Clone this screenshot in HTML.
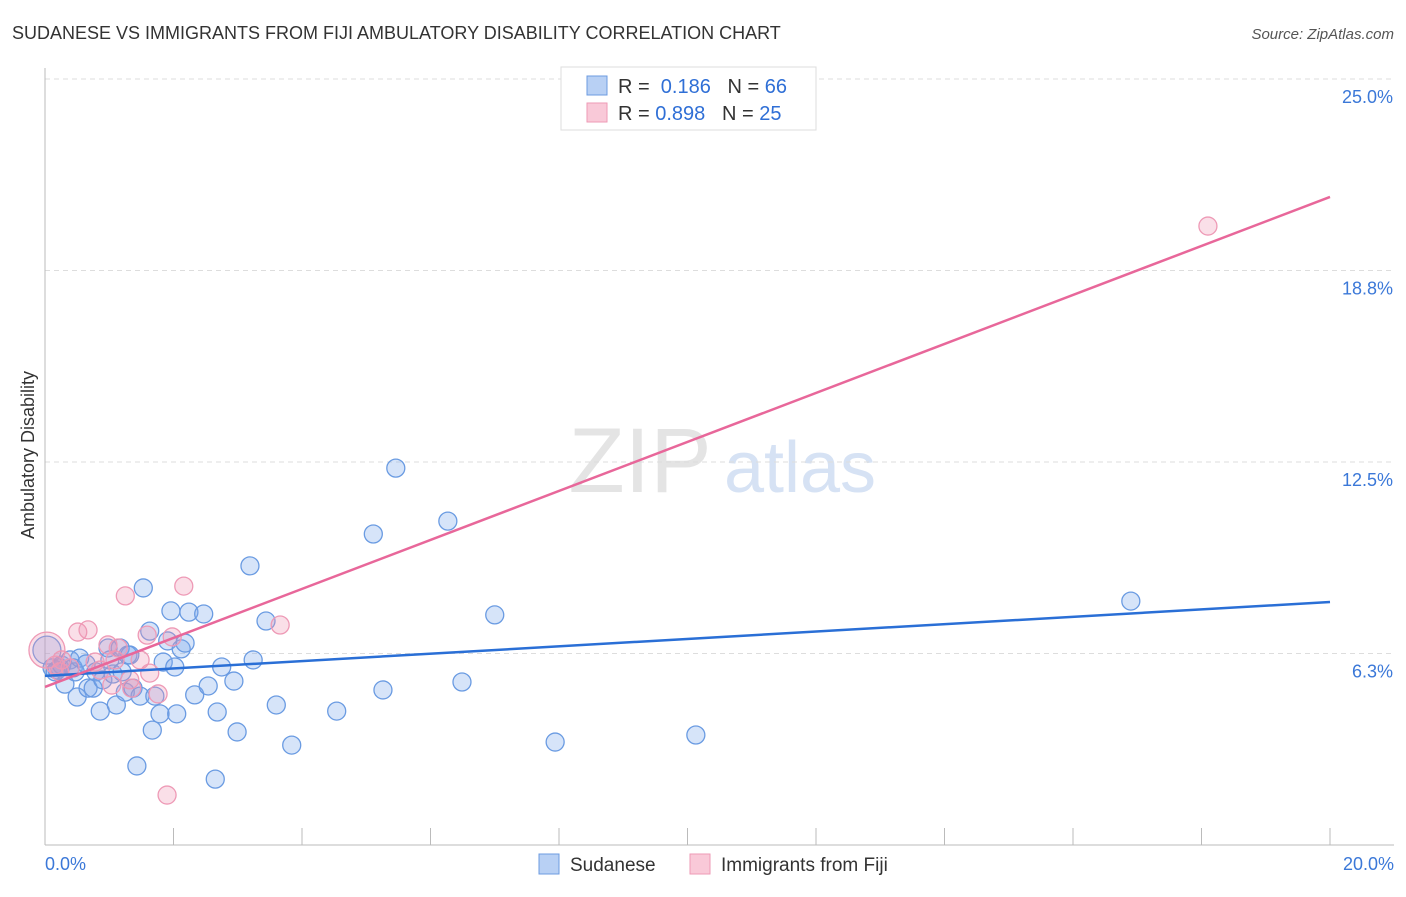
<!DOCTYPE html>
<html><head><meta charset="utf-8"><style>
body{margin:0;background:#fff;font-family:"Liberation Sans",sans-serif}
svg text{font-family:"Liberation Sans",sans-serif}
</style></head><body>
<svg id="c" width="1406" height="892">
<text x="12" y="39" font-size="18" fill="#333">SUDANESE VS IMMIGRANTS FROM FIJI AMBULATORY DISABILITY CORRELATION CHART</text>
<text x="1394" y="39" font-size="15" fill="#555" text-anchor="end" font-style="italic">Source: ZipAtlas.com</text>
<text x="640" y="492" font-size="92" fill="#e4e4e4" font-family="Liberation Serif" text-anchor="middle">ZIP</text>
<text x="800" y="492" font-size="72" fill="#d6e2f4" text-anchor="middle">atlas</text>
<g id="grid"></g><g id="axes"></g><g id="pts"></g><g id="lines"></g>
<text transform="translate(34,455) rotate(-90)" font-size="18" fill="#333" text-anchor="middle">Ambulatory Disability</text>
<g>
<rect x="561" y="67" width="255" height="63" fill="#fff" stroke="#ddd"/>
<rect x="587" y="76" width="20" height="19" fill="#b8d0f4" stroke="#6c9be0"/>
<rect x="587" y="103" width="20" height="19" fill="#f9c9d8" stroke="#ee9ab6"/>
<text x="618" y="93" font-size="20" fill="#333">R = <tspan fill="#2f6fd6">&#160;0.186</tspan>&#160;&#160;&#160;N = <tspan fill="#2f6fd6">66</tspan></text>
<text x="618" y="120" font-size="20" fill="#333">R = <tspan fill="#2f6fd6">0.898</tspan>&#160;&#160;&#160;N = <tspan fill="#2f6fd6">25</tspan></text>
</g>
<g>
<rect x="539" y="854" width="20" height="20" fill="#b8d0f4" stroke="#6c9be0"/>
<text x="570" y="871" font-size="19" fill="#333">Sudanese</text>
<rect x="690" y="854" width="20" height="20" fill="#f9c9d8" stroke="#ee9ab6"/>
<text x="721" y="871" font-size="19" fill="#333">Immigrants from Fiji</text>
</g>
</svg>
<script>
const xTicks=[0,2,4,6,8,10,12,14,16,18,20];
const yTicks=[6.3,12.5,18.8,25.0];
const yGrid=[6.25,12.5,18.75,25];
const blueX=[0.03,0.11,0.16,0.19,0.23,0.26,0.31,0.39,0.44,0.47,0.50,0.54,0.64,0.67,0.75,0.79,0.86,0.90,0.98,1.01,1.06,1.11,1.17,1.20,1.25,1.29,1.32,1.37,1.43,1.48,1.53,1.63,1.67,1.71,1.79,1.84,1.91,1.96,2.02,2.05,2.12,2.18,2.24,2.33,2.47,2.54,2.68,2.75,2.65,2.94,2.99,3.19,3.24,3.44,3.60,3.84,4.54,5.11,5.26,5.46,6.27,6.49,7.00,7.94,10.13,16.90];
const blueY=[6.36,5.78,5.65,5.71,5.78,5.87,5.25,6.04,5.78,5.65,4.83,6.10,5.91,5.12,5.12,5.65,4.37,5.39,6.43,6.04,5.58,4.57,6.43,5.65,4.99,6.20,6.20,5.12,2.58,4.86,8.39,6.98,3.75,4.86,4.28,5.97,6.66,7.64,5.81,4.28,6.40,6.59,7.60,4.90,7.54,5.19,4.34,5.81,2.15,5.35,3.69,9.11,6.04,7.31,4.57,3.26,4.37,10.15,5.06,12.30,10.57,5.32,7.51,3.36,3.59,7.96];
const pinkX=[0.03,0.16,0.23,0.26,0.39,0.51,0.67,0.78,0.86,0.98,1.04,1.09,1.14,1.25,1.32,1.35,1.48,1.59,1.63,1.76,1.90,1.98,2.16,3.66,18.10];
const pinkY=[6.36,5.87,5.65,6.04,5.78,6.95,7.02,5.97,5.71,6.53,5.22,6.04,6.43,8.13,5.39,5.12,6.04,6.85,5.61,4.93,1.63,6.79,8.45,7.18,20.20];
const pinkR=[18,9,9,9,9,9,9,9,9,9,9,9,9,9,9,9,9,9,9,9,9,9,9,9,9];
const blueTrend=[5.52,7.93];
const pinkTrend=[5.16,21.15];
const trendX=[0,20];
const NS='http://www.w3.org/2000/svg';
const X=v=>45+v*1285/20, Y=v=>845-v*766/25;
function mk(t,a,p){const e=document.createElementNS(NS,t);for(const k in a)e.setAttribute(k,a[k]);p.appendChild(e);return e;}
const grid=document.getElementById('grid'),axes=document.getElementById('axes'),pts=document.getElementById('pts'),lines=document.getElementById('lines');
yGrid.forEach((v,i)=>{
 const l=mk('line',{x1:45,x2:1394,y1:Y(v),y2:Y(v),stroke:'#ddd','stroke-dasharray':'5,4'},grid);
 
 
 const t=mk('text',{x:1393,y:Y(v)+24,'font-size':18,fill:'#3b78d8','text-anchor':'end'},axes);
 t.textContent=yTicks[i].toFixed(1)+'%';
 
 
});
const ya=mk('line',{x1:45,x2:45,y1:68,y2:845,stroke:'#bbb'},axes);


const xa=mk('line',{x1:45,x2:1394,y1:845,y2:845,stroke:'#bbb'},axes);


xTicks.forEach(v=>{
 const l=mk('line',{x1:X(v),x2:X(v),y1:828,y2:845,stroke:'#bbb'},axes);
 
 
});
[[0,'start'],[20,'end']].forEach(([v,a])=>{
 const t=mk('text',{x:v?1394:45,y:870,'font-size':18,fill:'#3b78d8','text-anchor':a},axes);
 t.textContent=v.toFixed(1)+'%';
 
 
});
blueX.forEach((v,i)=>{
 const c=mk('circle',{cx:X(v),cy:Y(blueY[i]),r:i===0?14:9,fill:'rgba(120,165,235,0.3)',stroke:'#6a9be2','stroke-width':1.3},pts);
 
 
});
pinkX.forEach((v,i)=>{
 const c=mk('circle',{cx:X(v),cy:Y(pinkY[i]),r:pinkR[i],fill:'rgba(240,150,180,0.3)',stroke:'#ee9ab6','stroke-width':1.3},pts);
 
 
});
const bl=mk('line',{x1:X(trendX[0]),y1:Y(blueTrend[0]),x2:X(trendX[1]),y2:Y(blueTrend[1]),stroke:'#2a6fd6','stroke-width':2.5},lines);


const pl=mk('line',{x1:X(trendX[0]),y1:Y(pinkTrend[0]),x2:X(trendX[1]),y2:Y(pinkTrend[1]),stroke:'#e8679a','stroke-width':2.5},lines);


</script>
</body></html>
